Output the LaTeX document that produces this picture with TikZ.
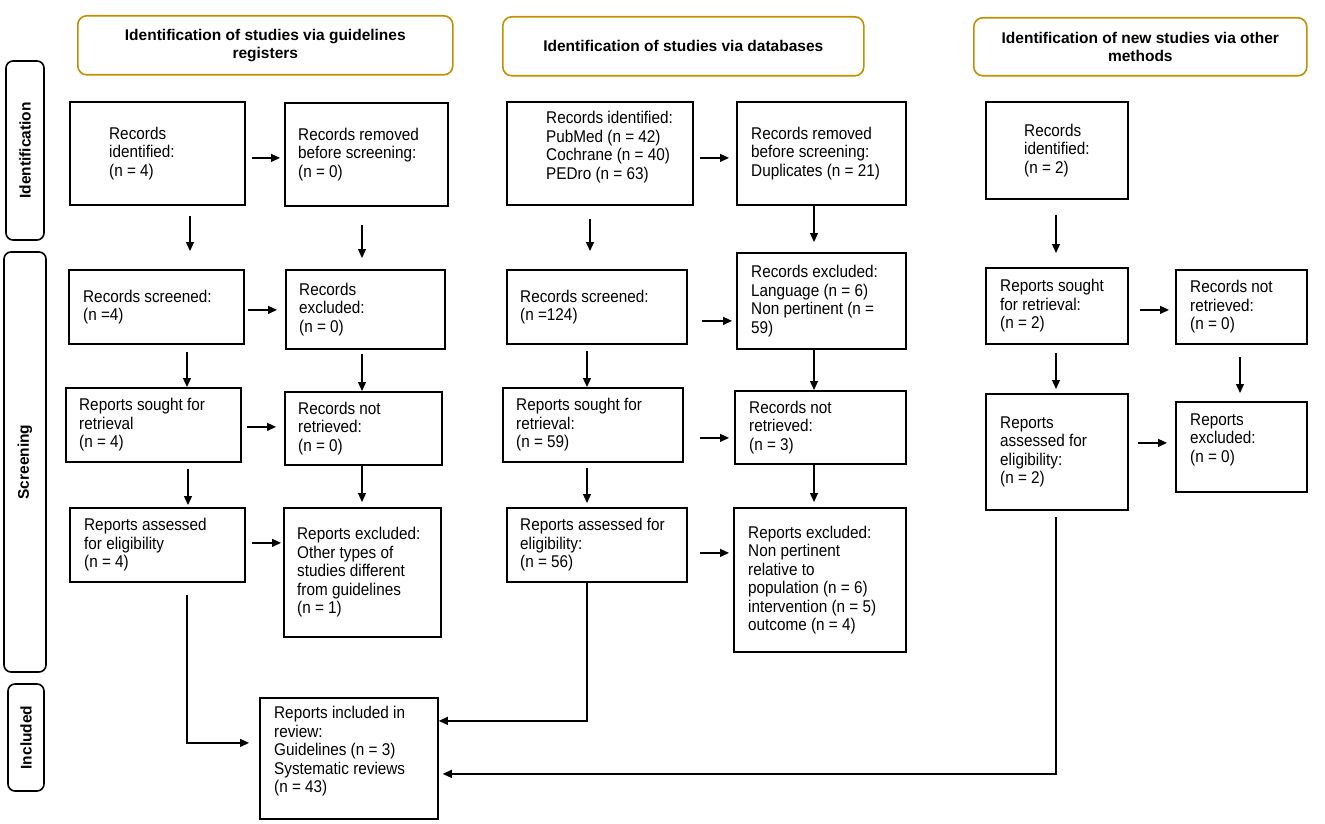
\documentclass[tikz,border=0pt]{standalone}
\usepackage{fontspec}
\setmainfont{Liberation Sans}
\newfontfamily\bodyfont[FakeStretch=0.9]{Liberation Sans}
\usetikzlibrary{arrows.meta}
\definecolor{gold}{RGB}{191,144,0}
\tikzset{
  box/.style={draw, line width=1.8pt, anchor=north west, inner sep=0pt},
  txt/.style={anchor=west, align=left, inner sep=0pt, font=\bodyfont\fontsize{17}{18.5}\selectfont},
  head/.style={draw=gold, line width=1.6pt, rounded corners=9pt, anchor=north west, align=center, font=\fontsize{15.5}{18}\selectfont\bfseries},
  side/.style={draw, line width=1.6pt, rounded corners=7pt, rotate=90, inner sep=0pt, font=\fontsize{15.5}{18}\selectfont\bfseries},
  arr/.style={-{Triangle[length=9pt,width=8pt]}, line width=1.3pt}
}
\begin{document}
\begin{tikzpicture}[x=1pt, y=-1pt]
\useasboundingbox (0,0) rectangle (1325,824);
% headers and phases
\node[head, minimum width=375pt, minimum height=59pt] (hd1) at (77,15) {Identification of studies via guidelines\\registers};
\node[head, minimum width=361pt, minimum height=59pt] (hd2) at (502,16) {Identification of studies via databases};
\node[head, minimum width=333pt, minimum height=58pt] (hd3) at (973,17) {Identification of new studies via other\\methods};
\node[side, minimum width=179pt, minimum height=38pt] (sid1) at (25,150.5) {Identification};
\node[side, minimum width=420pt, minimum height=42pt] (sid2) at (25,462) {Screening};
\node[side, minimum width=107pt, minimum height=36pt] (sid3) at (26,737.5) {Included};
% guidelines registers
\node[box, minimum width=175pt, minimum height=103pt] (id1) at (69,101) {};
\node[box, minimum width=163pt, minimum height=103pt] (rem1) at (284,102) {};
\node[box, minimum width=175pt, minimum height=74pt] (scr1) at (68,269) {};
\node[box, minimum width=159pt, minimum height=79pt] (exc1) at (285,269) {};
\node[box, minimum width=175pt, minimum height=74pt] (sgt1) at (65,387) {};
\node[box, minimum width=157pt, minimum height=73pt] (nret1) at (284,391) {};
\node[box, minimum width=175pt, minimum height=74pt] (ass1) at (69,507) {};
\node[box, minimum width=157pt, minimum height=129pt] (rexc1) at (283,507) {};
\node[txt] (id1t) at ([xshift=40]id1.west) {Records\\identified:\\(n = 4)};
\node[txt] (rem1t) at ([xshift=14]rem1.west) {Records removed\\before screening:\\(n = 0)};
\node[txt] (scr1t) at ([xshift=15]scr1.west) {Records screened:\\(n =4)};
\node[txt] (exc1t) at ([xshift=14]exc1.west) {Records\\excluded:\\(n = 0)};
\node[txt] (sgt1t) at ([xshift=14]sgt1.west) {Reports sought for\\retrieval\\(n = 4)};
\node[txt] (nret1t) at ([xshift=14]nret1.west) {Records not\\retrieved:\\(n = 0)};
\node[txt] (ass1t) at ([xshift=15]ass1.west) {Reports assessed\\for eligibility\\(n = 4)};
\node[txt] (rexc1t) at ([xshift=14]rexc1.west) {Reports excluded:\\Other types of\\studies different\\from guidelines\\(n = 1)};
% databases
\node[box, minimum width=186pt, minimum height=103pt] (id2) at (506,101) {};
\node[box, minimum width=169pt, minimum height=103pt] (rem2) at (736,101) {};
\node[box, minimum width=180pt, minimum height=74pt] (scr2) at (506,269) {};
\node[box, minimum width=169pt, minimum height=96pt] (exc2) at (736,252) {};
\node[box, minimum width=180pt, minimum height=74pt] (sgt2) at (502,387) {};
\node[box, minimum width=171pt, minimum height=73pt] (nret2) at (734,390) {};
\node[box, minimum width=180pt, minimum height=74pt] (ass2) at (506,507) {};
\node[box, minimum width=172pt, minimum height=144pt] (rexc2) at (733,507) {};
\node[txt] (id2t) at ([xshift=40,yshift=6.5]id2.west) {Records identified:\\PubMed (n = 42)\\Cochrane (n = 40)\\PEDro (n = 63)};
\node[txt] (rem2t) at ([xshift=15]rem2.west) {Records removed\\before screening:\\Duplicates (n = 21)};
\node[txt] (scr2t) at ([xshift=14]scr2.west) {Records screened:\\(n =124)};
\node[txt] (exc2t) at ([xshift=15]exc2.west) {Records excluded:\\Language (n = 6)\\Non pertinent (n =\\59)};
\node[txt] (sgt2t) at ([xshift=14]sgt2.west) {Reports sought for\\retrieval:\\(n = 59)};
\node[txt] (nret2t) at ([xshift=15]nret2.west) {Records not\\retrieved:\\(n = 3)};
\node[txt] (ass2t) at ([xshift=14]ass2.west) {Reports assessed for\\eligibility:\\(n = 56)};
\node[txt] (rexc2t) at ([xshift=15]rexc2.west) {Reports excluded:\\Non pertinent\\relative to\\population (n = 6)\\intervention (n = 5)\\outcome (n = 4)};
% other methods
\node[box, minimum width=142pt, minimum height=97pt] (id3) at (985,101) {};
\node[box, minimum width=142pt, minimum height=76pt] (sgt3) at (985,267) {};
\node[box, minimum width=131pt, minimum height=74pt] (nret3) at (1175,269) {};
\node[box, minimum width=142pt, minimum height=116pt] (ass3) at (985,393) {};
\node[box, minimum width=131pt, minimum height=90pt] (rexc3) at (1175,401) {};
\node[txt] (id3t) at ([xshift=39]id3.west) {Records\\identified:\\(n = 2)};
\node[txt] (sgt3t) at ([xshift=15]sgt3.west) {Reports sought\\for retrieval:\\(n = 2)};
\node[txt] (nret3t) at ([xshift=15]nret3.west) {Records not\\retrieved:\\(n = 0)};
\node[txt] (ass3t) at ([xshift=15]ass3.west) {Reports\\assessed for\\eligibility:\\(n = 2)};
\node[txt] (rexc3t) at ([xshift=15,yshift=7]rexc3.west) {Reports\\excluded:\\(n = 0)};
% included
\node[box, minimum width=178pt, minimum height=121pt] (inc) at (259,697) {};
\node[txt] (inct) at ([xshift=15,yshift=7]inc.west) {Reports included in\\review:\\Guidelines (n = 3)\\Systematic reviews\\(n = 43)};
% arrows, guidelines registers
\draw[arr, shorten <=6pt, shorten >=4pt] ([yshift=-4.5]id1.east) -- ([yshift=-4.5]id1.east -| rem1.west);
\draw[arr, shorten <=3pt, shorten >=8pt] ([yshift=-3]scr1.east) -- ([yshift=-3]scr1.east -| exc1.west);
\draw[arr, shorten <=5pt, shorten >=8pt] ([yshift=-2]sgt1.east) -- ([yshift=-2]sgt1.east -| nret1.west);
\draw[arr, shorten <=6pt, shorten >=2pt] ([yshift=2]ass1.east) -- ([yshift=2]ass1.east -| rexc1.west);
\draw[arr, shorten <=10pt, shorten >=18pt] ([xshift=121]id1.south west) -- ([xshift=121]id1.south west |- scr1.north);
\draw[arr, shorten <=18pt, shorten >=11pt] ([xshift=78]rem1.south west) -- ([xshift=78]rem1.south west |- exc1.north);
\draw[arr, shorten <=7pt] ([xshift=119]scr1.south west) -- ([xshift=119]scr1.south west |- sgt1.north);
\draw[arr, shorten <=4pt] ([xshift=77]exc1.south west) -- ([xshift=77]exc1.south west |- nret1.north);
\draw[arr, shorten <=6pt, shorten >=2pt] ([xshift=123]sgt1.south west) -- ([xshift=123]sgt1.south west |- ass1.north);
\draw[arr, shorten >=5pt] ([xshift=78]nret1.south west) -- ([xshift=78]nret1.south west |- rexc1.north);
% arrows, databases
\draw[arr, shorten <=6pt, shorten >=7pt] ([yshift=-4.5]id2.east) -- ([yshift=-4.5]id2.east -| rem2.west);
\draw[arr, shorten <=14pt, shorten >=4pt] ([yshift=-14]scr2.east) -- ([yshift=-14]scr2.east -| exc2.west);
\draw[arr, shorten <=16pt, shorten >=5pt] ([yshift=-13]sgt2.east) -- ([yshift=-13]sgt2.east -| nret2.west);
\draw[arr, shorten <=12pt, shorten >=4pt] ([yshift=-8]ass2.east) -- ([yshift=-8]ass2.east -| rexc2.west);
\draw[arr, shorten <=13pt, shorten >=18pt] ([xshift=84]id2.south west) -- ([xshift=84]id2.south west |- scr2.north);
\draw[arr, shorten >=10pt] ([xshift=78]rem2.south west) -- ([xshift=78]rem2.south west |- exc2.north);
\draw[arr, shorten <=6pt] ([xshift=81]scr2.south west) -- ([xshift=81]scr2.south west |- sgt2.north);
\draw[arr] ([xshift=78]exc2.south west) -- ([xshift=78]exc2.south west |- nret2.north);
\draw[arr, shorten <=5pt, shorten >=4pt] ([xshift=85]sgt2.south west) -- ([xshift=85]sgt2.south west |- ass2.north);
\draw[arr, shorten >=5pt] ([xshift=80]nret2.south west) -- ([xshift=80]nret2.south west |- rexc2.north);
% arrows, other methods
\draw[arr, shorten <=11pt, shorten >=6pt] ([yshift=-4]sgt3.east) -- ([yshift=-4]sgt3.east -| nret3.west);
\draw[arr, shorten <=9pt, shorten >=8pt] ([yshift=9]ass3.east) -- ([yshift=9]ass3.east -| rexc3.west);
\draw[arr, shorten <=15pt, shorten >=14pt] ([xshift=71]id3.south west) -- ([xshift=71]id3.south west |- sgt3.north);
\draw[arr, shorten <=8pt, shorten >=4pt] ([xshift=71]sgt3.south west) -- ([xshift=71]sgt3.south west |- ass3.north);
\draw[arr, shorten <=12pt, shorten >=8pt] ([xshift=65]nret3.south west) -- ([xshift=65]nret3.south west |- rexc3.north);
% into the review
\draw[arr, shorten <=12pt, shorten >=10pt] ([xshift=118]ass1.south west) |- ([yshift=15.5]inc.west);
\draw[arr] ([xshift=81]ass2.south west) |- ([yshift=37.5]inc.east);
\draw[arr, shorten <=6pt, shorten >=4pt] ([xshift=71]ass3.south west) |- ([yshift=-15.5]inc.east);
\end{tikzpicture}
\end{document}
